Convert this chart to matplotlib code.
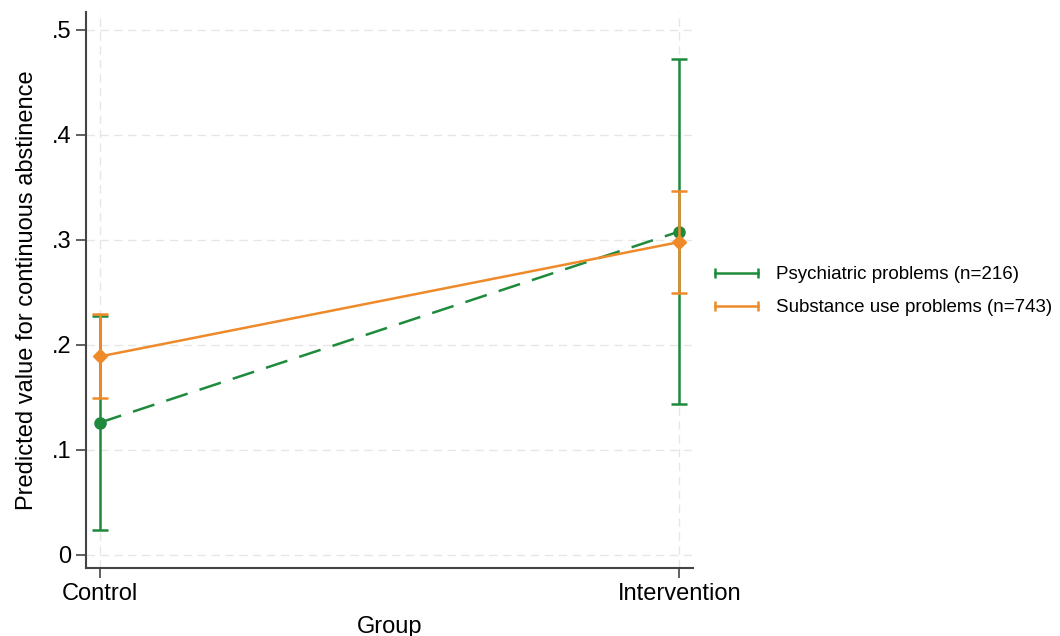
import numpy as np
import matplotlib.pyplot as plt
from matplotlib.lines import Line2D

plt.rcParams['font.family'] = ['Liberation Sans', 'DejaVu Sans']

groups = ['Control', 'Intervention']
psych = [0.126, 0.308]
psych_lo = [0.024, 0.144]
psych_hi = [0.228, 0.472]
subst = [0.189, 0.298]
subst_lo = [0.149, 0.249]
subst_hi = [0.229, 0.347]

green = '#1e8a3c'
orange = '#ee8a2a'

fig = plt.figure(figsize=(10.6, 6.36), dpi=100)
ax = fig.add_axes([0.081, 0.107, 0.573, 0.874])

x = np.arange(len(groups))

ax.errorbar(x, psych,
            yerr=[np.array(psych) - np.array(psych_lo), np.array(psych_hi) - np.array(psych)],
            color=green, ls=(0, (9, 5)), lw=1.8, marker='o', ms=8,
            capsize=6, elinewidth=1.8, capthick=1.8, zorder=3)
ax.errorbar(x, subst,
            yerr=[np.array(subst) - np.array(subst_lo), np.array(subst_hi) - np.array(subst)],
            color=orange, ls='-', lw=1.8, marker='D', ms=7,
            capsize=6, elinewidth=1.8, capthick=1.8, zorder=4)

ax.set_xlim(-0.024, 1.024)
ax.set_ylim(-0.0124, 0.517)
ax.set_xticks(x)
ax.set_xticklabels(groups)
yt = [0, 0.1, 0.2, 0.3, 0.4, 0.5]
ax.set_yticks(yt)
ax.set_yticklabels(['0', '.1', '.2', '.3', '.4', '.5'])
ax.tick_params(labelsize=17, length=7, width=1.2, color='#444444')
ax.grid(True, color='#e6e6e6', ls=(0, (6, 4)), lw=1)
ax.set_axisbelow(True)
for s in ['top', 'right']:
    ax.spines[s].set_visible(False)
for s in ['left', 'bottom']:
    ax.spines[s].set_color('#444444')
    ax.spines[s].set_linewidth(1.5)

ax.set_xlabel('Group', fontsize=17, labelpad=8)
ax.set_ylabel('Predicted value for continuous abstinence', fontsize=17, labelpad=10)

handles = [Line2D([0, 1], [0, 0], color=green, lw=1.8, marker='|', ms=7, mew=1.8),
           Line2D([0, 1], [0, 0], color=orange, lw=1.8, marker='|', ms=7, mew=1.8)]
fig.legend(handles, ['Psychiatric problems (n=216)', 'Substance use problems (n=743)'],
           loc='center left', bbox_to_anchor=(0.669, 0.542), frameon=False,
           numpoints=2, fontsize=13.5, handlelength=2.9, handletextpad=0.65,
           borderaxespad=0, borderpad=0, labelspacing=0.85)

fig.savefig('out.png', dpi=100)
